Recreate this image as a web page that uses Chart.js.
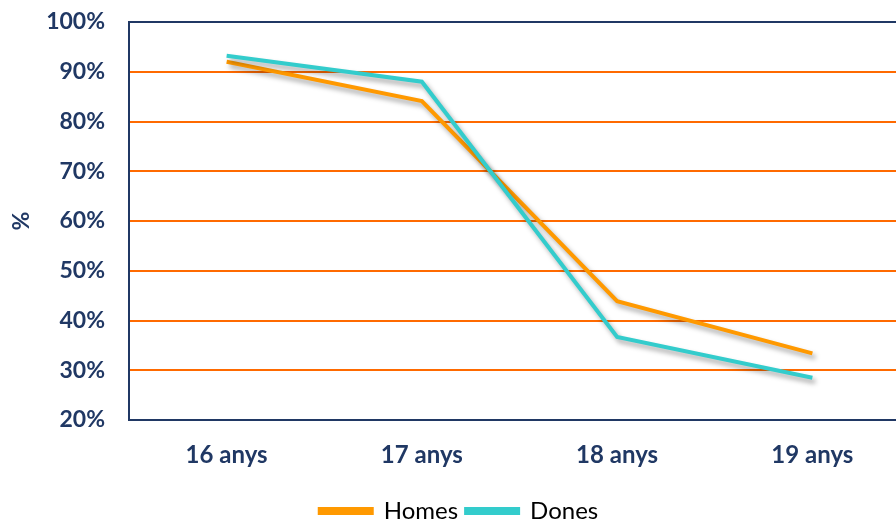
<!DOCTYPE html>
<html>
<head>
<meta charset="utf-8">
<script src="https://cdn.jsdelivr.net/npm/chart.js@4"></script>
<style>
  html, body { margin: 0; padding: 0; background: #fff; overflow: hidden; }
  #wrap { width: 896px; height: 521px; overflow: hidden; }
</style>
</head>
<body>
<div id="wrap"><canvas id="chart" width="910" height="533"></canvas></div>
<script>
const categories = ["16 anys", "17 anys", "18 anys", "19 anys"];
const homes = [92.0, 84.1, 43.9, 33.4];
const dones = [93.2, 88.0, 36.7, 28.5];
const yTicks = [20, 30, 40, 50, 60, 70, 80, 90, 100];

const navy = "#203864";
const gridOrange = "#FF6A00";
const clear = "rgba(0,0,0,0)";

// soft grey shadow under the lines
const lineShadow = {
    id: "lineShadow",
    beforeDatasetsDraw(chart) {
        const ctx = chart.ctx;
        ctx.save();
        ctx.shadowColor = "rgba(0,0,0,0.35)";
        ctx.shadowBlur = 5;
        ctx.shadowOffsetX = 3;
        ctx.shadowOffsetY = 4;
    },
    afterDatasetsDraw(chart) {
        chart.ctx.restore();
    }
};

new Chart(document.getElementById("chart"), {
    type: "line",
    data: {
        labels: categories,
        datasets: [
            { label: "Homes", data: homes, borderColor: "#FF9900", backgroundColor: "#FF9900",
              borderWidth: 4, pointRadius: 0, tension: 0, order: 1 },
            { label: "Dones", data: dones, borderColor: "#33CCCC", backgroundColor: "#33CCCC",
              borderWidth: 4, pointRadius: 0, tension: 0, order: 0 }
        ]
    },
    options: {
        responsive: false,
        animation: false,
        layout: { padding: { top: 22, left: 8, right: 0, bottom: 0 } },
        plugins: {
            tooltip: { enabled: false },
            legend: {
                position: "bottom",
                labels: {
                    sort: (a, b) => a.datasetIndex - b.datasetIndex,
                    boxWidth: 52,
                    boxHeight: 4,
                    padding: 8,
                    color: "#000",
                    font: { family: "Lato", size: 24, lineHeight: 1 }
                }
            }
        },
        scales: {
            x: {
                offset: true,
                grid: { display: false, drawTicks: true, tickLength: 21, tickColor: clear },
                border: { display: true, color: navy, width: 2 },
                ticks: {
                    padding: 0,
                    color: navy,
                    font: { family: "Lato", size: 24, weight: "bold" }
                },
                afterFit: (s) => { s.height = 71; }
            },
            y: {
                min: 20,
                max: 100,
                afterBuildTicks: (s) => { s.ticks = yTicks.map(v => ({ value: v })); },
                grid: {
                    drawTicks: true,
                    tickLength: 24,
                    tickColor: clear,
                    lineWidth: 2,
                    color: (c) => c.tick && c.tick.value === 100 ? navy : (c.tick && c.tick.value === 20 ? clear : gridOrange)
                },
                border: { display: true, color: navy, width: 2 },
                ticks: {
                    padding: 0,
                    color: navy,
                    font: { family: "Lato", size: 23, weight: "bold" },
                    callback: (v) => v + "%"
                },
                title: {
                    display: true,
                    text: "%",
                    color: navy,
                    padding: 0,
                    font: { family: "Lato", size: 23, weight: "bold" }
                },
                afterFit: (s) => { s.width = 121; }
            }
        }
    },
    plugins: [lineShadow]
});
</script>
</body>
</html>
